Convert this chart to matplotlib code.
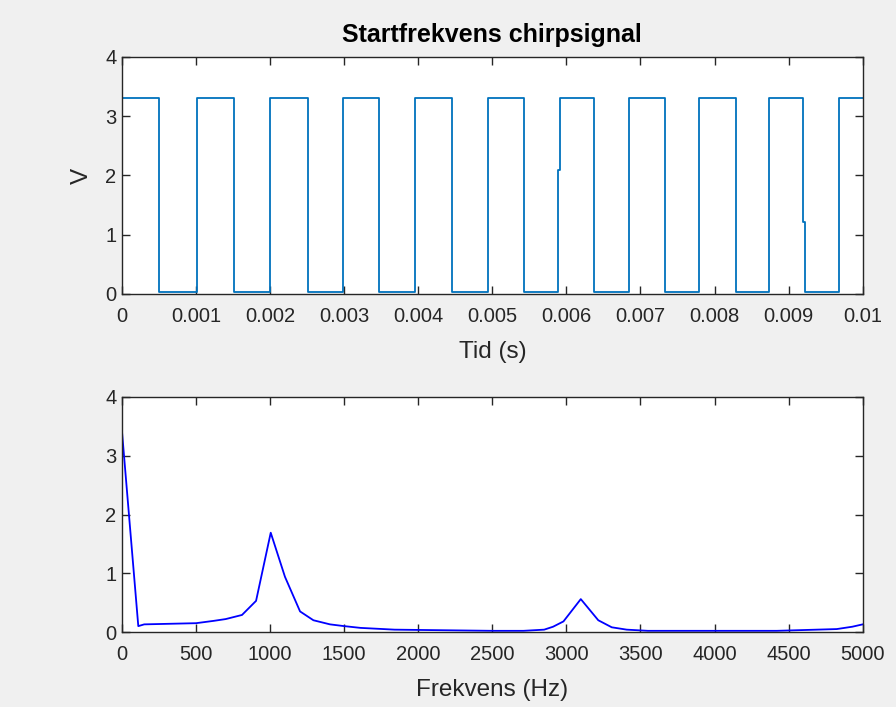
import matplotlib
matplotlib.use("Agg")
import matplotlib.pyplot as plt
import numpy as np

plt.rcParams['font.family'] = ['Liberation Sans', 'DejaVu Sans']

# ---- Top: square wave (chirp start) ----
# transition times (s) and level held after each transition
edge_times = [0.0, 0.000504, 0.001008, 0.001516, 0.002002, 0.002507, 0.002988,
              0.00347, 0.003956, 0.00446, 0.004945, 0.005427, 0.005882, 0.005909,
              0.006377, 0.00685, 0.007335, 0.007794, 0.008285, 0.008739,
              0.009198, 0.009225, 0.009684, 0.01]
edge_levels = [3.3, 0.03, 3.3, 0.03, 3.3, 0.03, 3.3,
               0.03, 3.3, 0.03, 3.3, 0.03, 2.1, 3.3,
               0.03, 3.3, 0.03, 3.3, 0.03, 3.3,
               1.22, 0.03, 3.3, 3.3]

# ---- Bottom: spectrum ----
freqs = [0, 110, 150, 500, 620, 700, 810, 905, 1004, 1100, 1202, 1292, 1404,
         1500, 1610, 1840, 2500, 2710, 2850, 2910, 2980, 3097, 3215, 3306,
         3407, 3550, 4420, 4825, 4930, 5000]
amps = [3.41, 0.10, 0.13, 0.15, 0.19, 0.22, 0.29, 0.53, 1.69, 0.94, 0.35, 0.20,
        0.13, 0.10, 0.07, 0.04, 0.02, 0.02, 0.04, 0.09, 0.18, 0.56, 0.20, 0.08,
        0.04, 0.02, 0.02, 0.05, 0.09, 0.13]

top_xticks = [0, 0.001, 0.002, 0.003, 0.004, 0.005, 0.006, 0.007, 0.008, 0.009, 0.01]
top_xticklabels = ['0', '0.001', '0.002', '0.003', '0.004', '0.005', '0.006',
                   '0.007', '0.008', '0.009', '0.01']
bot_xticks = [0, 500, 1000, 1500, 2000, 2500, 3000, 3500, 4000, 4500, 5000]
yticks = [0, 1, 2, 3, 4]

W, H = 896, 707
fig = plt.figure(figsize=(W / 100, H / 100), dpi=100, facecolor='#f0f0f0')

def px_axes(l, r, t, b):
    return fig.add_axes([l / W, 1 - b / H, (r - l) / W, (b - t) / H])

ax1 = px_axes(122, 862.7, 57, 294)
ax2 = px_axes(122, 862.7, 397, 632)

spine_col = '#262626'
for ax in (ax1, ax2):
    ax.set_facecolor('white')
    for s in ax.spines.values():
        s.set_color(spine_col)
        s.set_linewidth(1.0)
    ax.tick_params(direction='in', length=5.5, width=1.0, color=spine_col,
                   top=True, right=True, labelsize=14.5, labelcolor='#262626', pad=9.5)
    ax.tick_params(axis='y', pad=4)
    ax.set_yticks(yticks)
    ax.set_yticklabels([str(v) for v in yticks])
    ax.set_ylim(0, 4)

ax1.step(edge_times, edge_levels, where='post', color='#0072BD', lw=1.3)
ax1.set_xlim(0, 0.01)
ax1.set_xticks(top_xticks)
ax1.set_xticklabels(top_xticklabels)
ax1.set_xlabel('Tid (s)', fontsize=17.5, color='#262626', labelpad=11)
ax1.set_ylabel('V', fontsize=17.5, color='#262626', labelpad=9)
ax1.set_title('Startfrekvens chirpsignal', fontsize=18, fontweight='bold',
              color='black', pad=11)

ax2.plot(freqs, amps, color='blue', lw=1.3)
ax2.set_xlim(0, 5000)
ax2.set_xticks(bot_xticks)
ax2.set_xticklabels([str(v) for v in bot_xticks])
ax2.set_xlabel('Frekvens (Hz)', fontsize=17.5, color='#262626', labelpad=11)

fig.savefig('out.png', dpi=100, facecolor=fig.get_facecolor())
